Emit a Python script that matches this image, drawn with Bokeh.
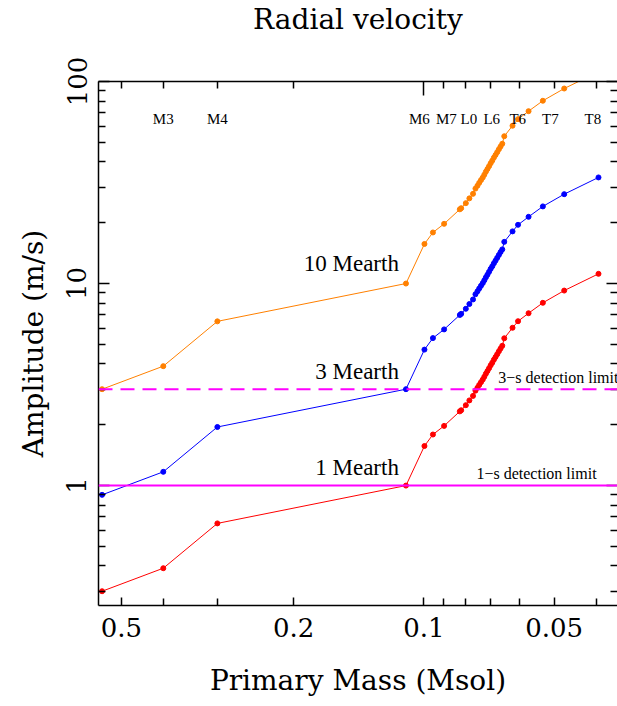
from bokeh.plotting import figure
from bokeh.models import (Range1d, LogAxis, FixedTicker, Span, ColumnDataSource,
                          CustomJSTickFormatter, Title)
from bokeh.core.properties import value
from bokeh.embed import file_html
from bokeh.resources import INLINE

# ---------------- data ----------------
mass = [0.554, 0.40, 0.30, 0.110, 0.0997, 0.0953, 0.0898, 0.0826, 0.0820, 0.0800, 0.0785, 0.0770,
        0.0760, 0.0752, 0.0745, 0.0738, 0.0731, 0.0725, 0.0719, 0.0713, 0.0707, 0.0701, 0.0695,
        0.0689, 0.0683, 0.0677, 0.0671, 0.0665, 0.0659,
        0.0652, 0.0624, 0.0606, 0.0573, 0.0531, 0.0474, 0.0395]
amp_1 = [0.30, 0.39, 0.65, 1.00, 1.57, 1.79, 1.975, 2.33, 2.36, 2.50, 2.64, 2.78,
         2.95, 3.05, 3.15, 3.25, 3.35, 3.46, 3.58, 3.69, 3.81, 3.94, 4.06, 4.20, 4.33,
         4.47, 4.62, 4.77, 4.92,
         5.36, 6.04, 6.51, 7.13, 8.03, 9.23, 11.17]
amp_3 = [0.90, 1.17, 1.95, 3.00, 4.71, 5.37, 5.93, 6.99, 7.08, 7.50, 7.92, 8.34,
         8.85, 9.15, 9.45, 9.75, 10.05, 10.38, 10.74, 11.07, 11.43, 11.82, 12.18, 12.60, 12.99,
         13.41, 13.86, 14.31, 14.76,
         16.08, 18.12, 19.53, 21.39, 24.09, 27.69, 33.51]
amp_10 = [3.0, 3.9, 6.5, 10.0, 15.7, 17.9, 19.75, 23.3, 23.6, 25.0, 26.4, 27.8,
          29.5, 30.5, 31.5, 32.5, 33.5, 34.6, 35.8, 36.9, 38.1, 39.4, 40.6, 42.0, 43.3,
          44.7, 46.2, 47.7, 49.2,
          53.6, 60.4, 65.1, 71.3, 80.3, 92.3, 111.7]

spec_types = ["M3", "M4", "M6", "M7", "L0", "L6", "T6", "T7", "T8"]
spec_mass = [0.40, 0.30, 0.1024, 0.0887, 0.0787, 0.0697, 0.0607, 0.0510, 0.0407]

series_names = ["10 Mearth", "3 Mearth", "1 Mearth"]
detection_limits = [1.0, 3.0]
limit_names = ["1\u2212s detection limit", "3\u2212s detection limit"]

x_ticks = [0.5, 0.2, 0.1, 0.05]
x_minor = [0.4, 0.3, 0.09, 0.08, 0.07, 0.06, 0.04]
x_top_major = [0.1]
x_top_minor = [0.5, 0.4, 0.3, 0.2, 0.09, 0.08, 0.07, 0.06, 0.05, 0.04]
y_ticks = [1, 10, 100]
y_minor = [0.3, 0.4, 0.5, 0.6, 0.7, 0.8, 0.9, 2, 3, 4, 5, 6, 7, 8, 9,
           20, 30, 40, 50, 60, 70, 80, 90]

# ---------------- figure ----------------
AX_FONT = "DejaVu Serif"
TXT_FONT = "Liberation Serif"

p = figure(width=617, height=706, x_axis_type="log", y_axis_type="log",
           x_range=Range1d(0.5646, 0.0357), y_range=Range1d(0.255, 100),
           output_backend="svg", toolbar_location=None,
           min_border_left=98, min_border_right=0, min_border_top=0, min_border_bottom=101)
p.outline_line_color = None
p.xgrid.grid_line_color = None
p.ygrid.grid_line_color = None
p.background_fill_color = "white"
p.border_fill_color = "white"

p.title.text = "Radial velocity"
p.title.align = "center"
p.title.text_font = AX_FONT
p.title.text_font_size = "28px"
p.title.text_font_style = "normal"
p.title.text_color = "black"
p.title.standoff = 0

fmt = CustomJSTickFormatter(code="return tick.toString();")
blank = CustomJSTickFormatter(code="return '';")

def style_axis(ax, major_len, minor_len, labels=True):
    ax.axis_line_color = "black"
    ax.axis_line_width = 1.5
    ax.major_tick_line_color = "black"
    ax.major_tick_line_width = 1.5
    ax.minor_tick_line_color = "black"
    ax.minor_tick_line_width = 1.5
    ax.major_tick_in = major_len
    ax.major_tick_out = 0
    ax.minor_tick_in = minor_len
    ax.minor_tick_out = 0
    if labels:
        ax.major_label_text_font = AX_FONT
        ax.major_label_text_font_size = "26px"
        ax.major_label_text_color = "black"
        ax.axis_label_text_font = AX_FONT
        ax.axis_label_text_font_size = "28px"
        ax.axis_label_text_font_style = "normal"
        ax.axis_label_text_color = "black"
    else:
        ax.major_label_text_font_size = "1px"
        ax.major_label_standoff = 0

xax = p.xaxis[0]
xax.ticker = FixedTicker(ticks=x_ticks, minor_ticks=x_minor)
xax.formatter = fmt
xax.axis_label = "Primary Mass (Msol)"
style_axis(xax, 8, 7)
xax.major_label_standoff = 12
xax.axis_label_standoff = 24

yax = p.yaxis[0]
yax.ticker = FixedTicker(ticks=y_ticks, minor_ticks=y_minor)
yax.formatter = fmt
yax.axis_label = "Amplitude (m/s)"
style_axis(yax, 11, 7)
yax.major_label_orientation = "parallel"
yax.major_label_standoff = 12
yax.axis_label_standoff = 15

top = LogAxis(ticker=FixedTicker(ticks=x_top_major, minor_ticks=x_top_minor), formatter=blank)
style_axis(top, 14, 7, labels=False)
p.add_layout(top, "above")

# empty spacer between the top axis and the title
p.add_layout(Title(text=" ", text_font_size="20px", standoff=22), "above")

right = LogAxis(ticker=FixedTicker(ticks=y_ticks, minor_ticks=y_minor), formatter=blank)
style_axis(right, 11, 7, labels=False)
right.axis_line_color = None
p.add_layout(right, "right")

# detection limits
p.add_layout(Span(location=detection_limits[0], dimension="width",
                  line_color="#FF00FF", line_width=2))
p.add_layout(Span(location=detection_limits[1], dimension="width",
                  line_color="#FF00FF", line_width=2, line_dash="14 8"))

src = ColumnDataSource(dict(mass=mass, a1=amp_1, a3=amp_3, a10=amp_10))
for col, colr in [("a10", "#FF8000"), ("a3", "#0000FF"), ("a1", "#FF0000")]:
    p.line("mass", col, source=src, line_color=colr, line_width=1)
    p.scatter("mass", col, source=src, size=5, fill_color=colr, line_color=colr)

# spectral type labels
p.text(x=spec_mass, y=[65] * len(spec_mass), text=spec_types,
       text_font=value(TXT_FONT), text_font_size="15px", text_color="black",
       text_align="center", text_baseline="alphabetic")

# series labels
p.text(x=[0.1142] * 3, y=[12.5, 3.68, 1.23], text=series_names,
       text_font=value(TXT_FONT), text_font_size="23px", text_color="black",
       text_align="right", text_baseline="alphabetic")

# detection limit labels
p.text(x=[0.0756, 0.0673], y=[1.15, 3.44], text=limit_names,
       text_font=value(TXT_FONT), text_font_size="16px", text_color="black",
       text_align="left", text_baseline="alphabetic")

open("out.html", "w").write(file_html(p, INLINE))
